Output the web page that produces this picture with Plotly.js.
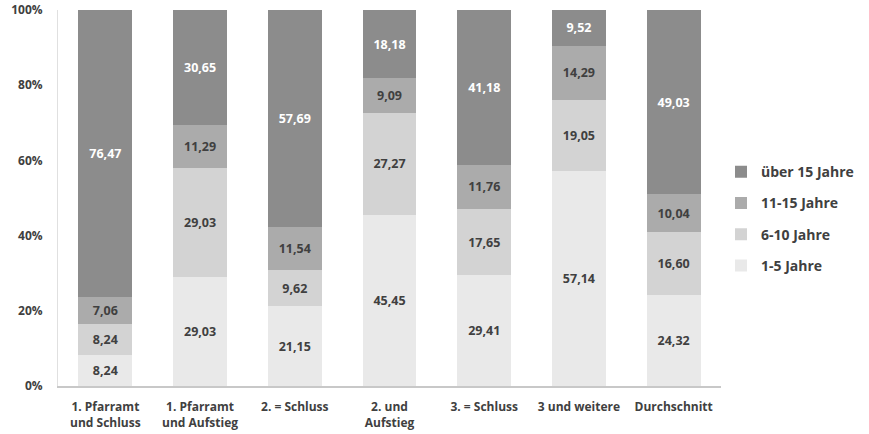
<!DOCTYPE html>
<html><head><meta charset="utf-8">
<script src="https://cdn.plot.ly/plotly-3.0.1.min.js"></script>
<style>html,body{margin:0;padding:0;background:#fff}#chart{width:869px;height:434px}</style>
</head><body><div id="chart"></div>
<script>
const categories = ["1. Pfarramt<br>und Schluss","1. Pfarramt<br>und Aufstieg","2. = Schluss","2. und<br>Aufstieg","3. = Schluss","3 und weitere","Durchschnitt"];
const seriesNames = ["1-5 Jahre","6-10 Jahre","11-15 Jahre","über 15 Jahre"];
const j1_5   = [8.24, 29.03, 21.15, 45.45, 29.41, 57.14, 24.32];
const j6_10  = [8.24, 29.03, 9.62, 27.27, 17.65, 19.05, 16.60];
const j11_15 = [7.06, 11.29, 11.54, 9.09, 11.76, 14.29, 10.04];
const j15p   = [76.47, 30.65, 57.69, 18.18, 41.18, 9.52, 49.03];
const yTicks = [0,20,40,60,80,100];
const yTickText = ["0%","20%","40%","60%","80%","100%"];

const colors = ["#e9e9e9","#d3d3d3","#ababab","#8c8c8c"];
const textColors = ["#404040","#404040","#404040","#ffffff"];
const values = [j1_5, j6_10, j11_15, j15p];
const FONT = "Open Sans, sans-serif";

const traces = values.map((v,i)=>({
  type:"bar", name:seriesNames[i], x:categories, y:v, legendgroup:"g"+i,
  legendrank: 4 - i,
  marker:{color:colors[i], line:{width:0}},
  texttemplate:"%{y:.2f}", textposition:"inside", insidetextanchor:"middle",
  textangle:0, constraintext:"none",
  textfont:{family:FONT, size:12.5, color:textColors[i], weight:"bold"},
  hoverinfo:"skip"
}));

const layout = {
  width:869, height:434, barmode:"stack", bargap:0.43,
  separators:",.",
  margin:{l:58, r:141, t:10, b:48},
  paper_bgcolor:"#fff", plot_bgcolor:"#fff",
  font:{family:FONT, size:12, color:"#404040", weight:"bold"},
  xaxis:{showgrid:false, showline:true, linecolor:"#c8c8c8", linewidth:2,
         ticks:"", ticklabelstandoff:9,
         tickfont:{family:FONT, size:12, color:"#404040", weight:"bold"}},
  yaxis:{range:[0,100], tickmode:"array", tickvals:yTicks, ticktext:yTickText, showgrid:false,
         showline:true, linecolor:"#e0e0e0", linewidth:1, zeroline:false, ticks:"",
         ticklabelstandoff:12,
         tickfont:{family:FONT, size:12, color:"#404040", weight:"bold"}},
  legend:{x:1.0, y:0.445, yanchor:"middle", xanchor:"left", traceorder:"grouped",
          font:{family:FONT, size:14, color:"#404040", weight:"bold"}, tracegroupgap:10,
          itemwidth:30},
  showlegend:true
};
Plotly.newPlot("chart", traces, layout, {staticPlot:true});
</script></body></html>
